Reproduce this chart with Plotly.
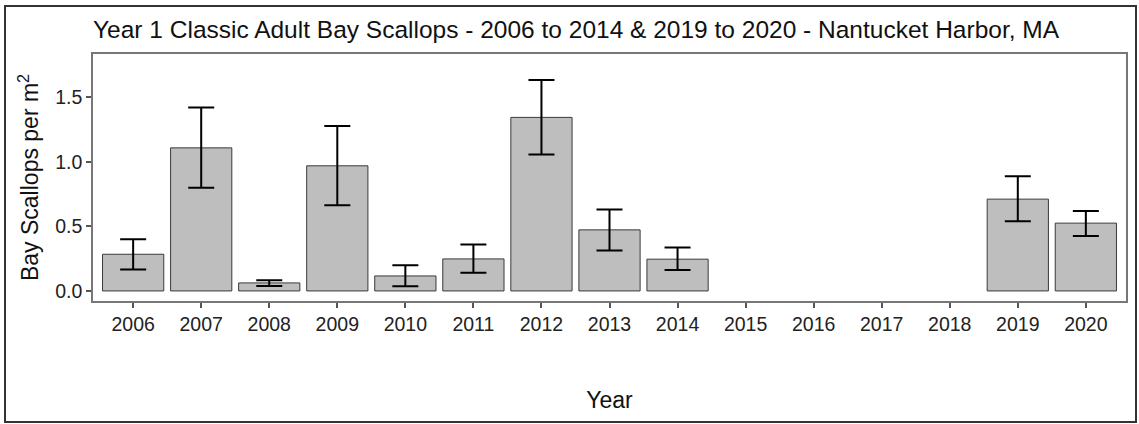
"""Year 1 classic adult bay scallops, Nantucket Harbor - bar chart with error bars"""
import plotly.graph_objects as go

# data
years = list(range(2006, 2021))
means = [0.284, 1.108, 0.062, 0.969, 0.116, 0.248, 1.344, 0.473, 0.246,
         None, None, None, None, 0.711, 0.525]
upper = [0.400, 1.420, 0.083, 1.277, 0.199, 0.360, 1.633, 0.631, 0.336,
         None, None, None, None, 0.889, 0.620]
lower = [0.166, 0.800, 0.039, 0.664, 0.036, 0.140, 1.057, 0.313, 0.163,
         None, None, None, None, 0.540, 0.426]
y_ticks = [0.0, 0.5, 1.0, 1.5]

err_plus = [None if m is None else u - m for m, u in zip(means, upper)]
err_minus = [None if m is None else m - l for m, l in zip(means, lower)]

font_family = 'Arial, "Liberation Sans", sans-serif'

bars = go.Bar(x=years,
              y=means,
              marker=dict(color='#bebebe',
                          line=dict(color='#3a3a3a', width=1)),
              error_y=dict(type='data',
                           symmetric=False,
                           array=err_plus,
                           arrayminus=err_minus,
                           color='black',
                           thickness=2,
                           width=13),
              hoverinfo='x+y')

layout = go.Layout(
    width=1139, height=424,
    margin=dict(l=93, r=13, t=54, b=123),
    paper_bgcolor='white',
    plot_bgcolor='white',
    bargap=0.1,
    showlegend=False,
    font=dict(family=font_family, color='#1a1a1a'),
    title=dict(text='Year 1 Classic Adult Bay Scallops - 2006 to 2014 & 2019 to 2020 - Nantucket Harbor, MA',
               font=dict(size=24.5, color='#111'),
               xref='paper', x=0, xanchor='left',
               yref='container', y=1 - 29 / 424, yanchor='middle'),
    xaxis=dict(range=[2005.41, 2020.59],
               tickmode='array', tickvals=years,
               ticktext=[str(y) for y in years],
               ticks='outside', ticklen=5, tickcolor='#555', tickwidth=1.5,
               tickfont=dict(size=19.5, color='#222'),
               showline=True, linecolor='#777', linewidth=1.5, mirror=True,
               showgrid=False, zeroline=False,
               title=dict(text='Year', font=dict(size=23, color='#111'),
                          standoff=58)),
    yaxis=dict(range=[-0.078, 1.835],
               tickmode='array', tickvals=y_ticks,
               tickformat='.1f',
               ticks='outside', ticklen=5, tickcolor='#555', tickwidth=1.5,
               tickfont=dict(size=19.5, color='#222'),
               showline=True, linecolor='#777', linewidth=1.5, mirror=True,
               showgrid=False, zeroline=False,
               title=dict(text='Bay Scallops per m<sup>2</sup>',
                          font=dict(size=23, color='#111'),
                          standoff=10)),
    shapes=[dict(type='rect', xref='paper', yref='paper',
                 x0=(5 - 93) / 1033, x1=(1136 - 93) / 1033,
                 y0=(301 - 422) / 247, y1=(301 - 6) / 247,
                 line=dict(color='#333', width=2), layer='below')]
)

fig = go.Figure(data=[bars], layout=layout)
# drop the page's default body margin so the figure sits at the window corner
fig.write_html('out.html',
               config={'displayModeBar': False},
               post_script="document.body.style.margin='0';")
